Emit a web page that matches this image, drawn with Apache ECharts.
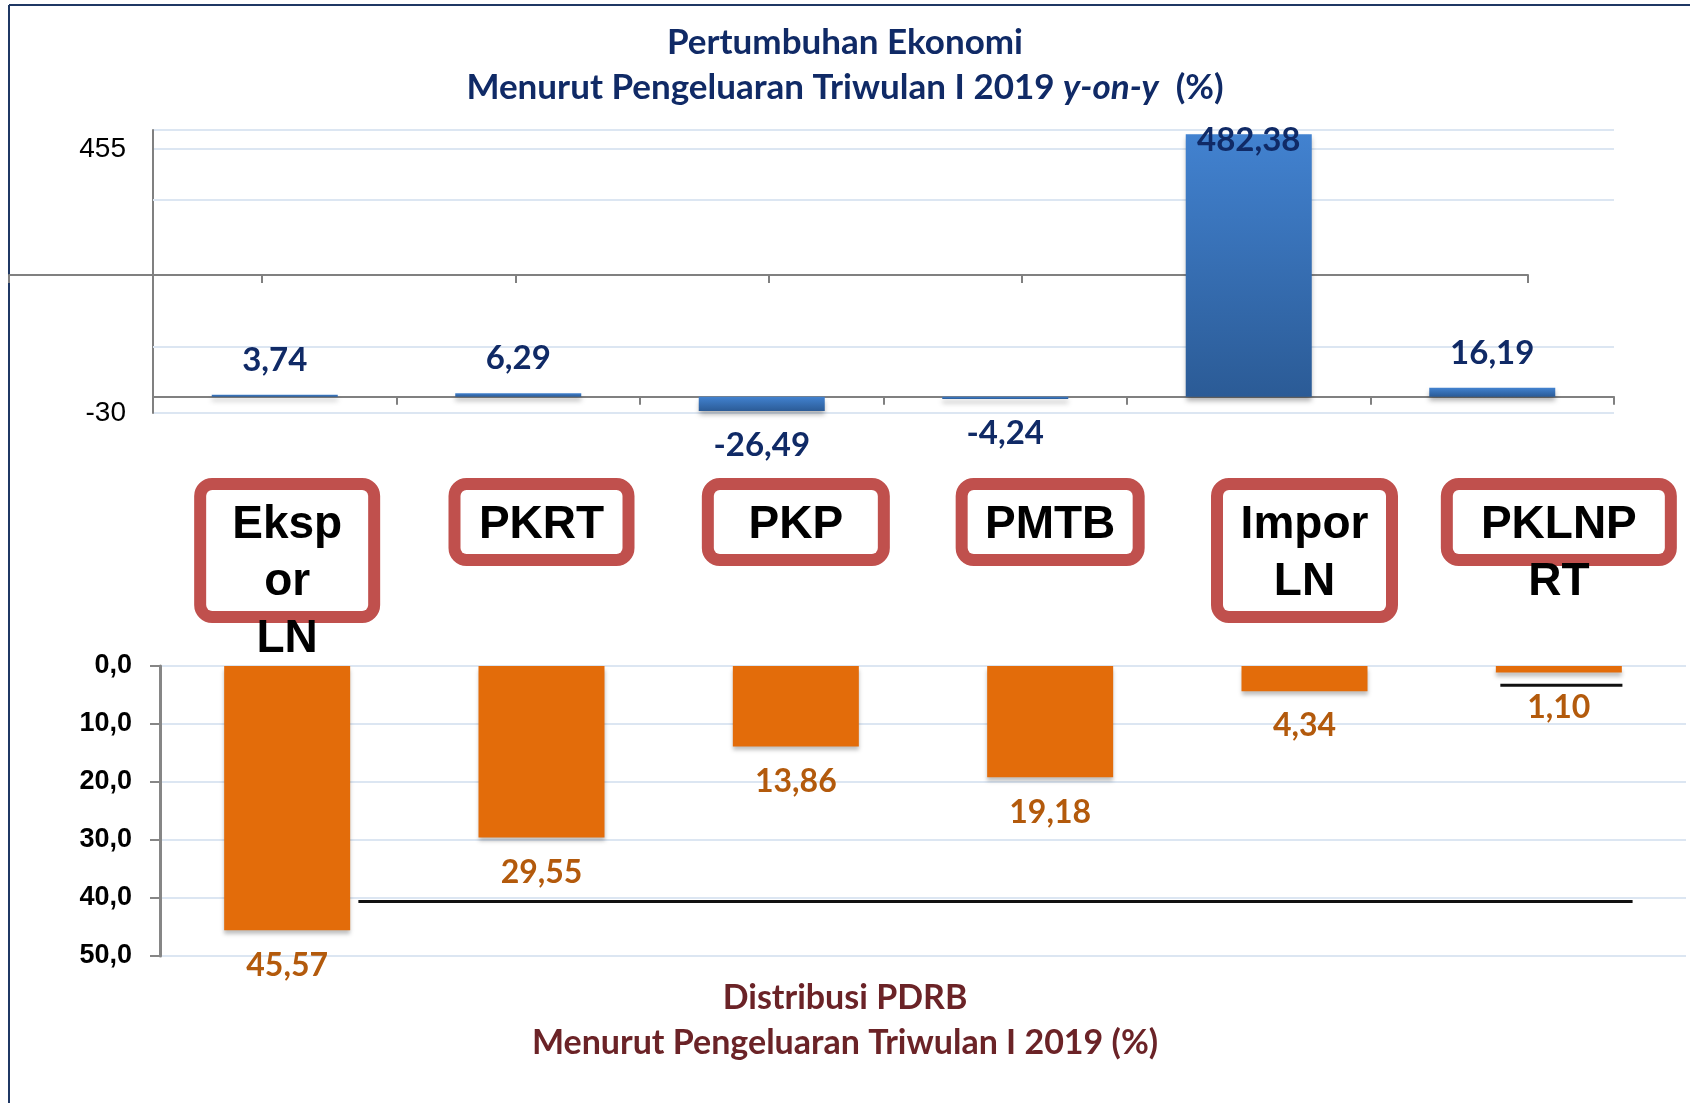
<!DOCTYPE html>
<html>
<head>
<meta charset="utf-8">
<script src="https://cdn.jsdelivr.net/npm/echarts@6/dist/echarts.min.js"></script>
<style>
  html, body { margin: 0; padding: 0; background: #fff; }
  #main { width: 1690px; height: 1103px; }
</style>
</head>
<body>
<div id="main"></div>
<script>
// kategori pengeluaran (teks seperti di kotak merah)
var categories = ["Eksp\nor\nLN", "PKRT", "PKP", "PMTB", "Impor\nLN", "PKLNP\nRT"];
// pertumbuhan ekonomi y-on-y (%)
var growth = [3.74, 6.29, -26.49, -4.24, 482.38, 16.19];
// distribusi PDRB (%)
var distribution = [45.57, 29.55, 13.86, 19.18, 4.34, 1.10];
// label sumbu atas yang terlihat
var growthTicks = [-30, 455];
// garis-garis lepas pada gambar
var paleLines = [91, 361];
var blackLine = [[0.78, 40.6], [5.79, 40.6]];
var shortLine = [[5.27, 3.3], [5.75, 3.3]];

var navy = "#102a66";
var boxW = [142, 142, 144, 145, 143, 192];
var boxH = [114, null, null, null, null, 57];

function comma(v, d) {
  return Number(v).toFixed(d).replace(".", ",");
}

var myChart = echarts.init(document.getElementById("main"));

myChart.setOption({
  animation: false,
  title: [
    {
      text: "Pertumbuhan Ekonomi\nMenurut Pengeluaran Triwulan I 2019 {i|y-on-y}  (%)",
      left: "center",
      top: 15,
      textStyle: {
        fontFamily: "Lato", fontWeight: "bold", fontSize: 35, color: navy, lineHeight: 45,
        rich: { i: { fontFamily: "Lato", fontWeight: "bold", fontStyle: "italic", fontSize: 35, color: navy, lineHeight: 45 } }
      }
    },
    {
      text: "Distribusi PDRB\nMenurut Pengeluaran Triwulan I 2019 (%)",
      left: "center",
      top: 971,
      textStyle: { fontFamily: "Lato", fontWeight: "bold", fontSize: 34, color: "#6b2327", lineHeight: 45 }
    }
  ],
  graphic: [
    { type: "line", shape: { x1: 9, y1: 5, x2: 9, y2: 1103 }, style: { stroke: "#1f3864", lineWidth: 2 } },
    { type: "line", shape: { x1: 9, y1: 5, x2: 1690, y2: 5 }, style: { stroke: "#1f3864", lineWidth: 2 } }
  ],
  grid: [
    { left: 153, top: 130, width: 1461, height: 283 },
    { left: 9, top: 274, width: 1519, height: 1 },
    { left: 160, top: 666, width: 1526, height: 290 }
  ],
  xAxis: [
    {
      gridIndex: 0, type: "category", data: categories,
      axisLine: { onZero: true, lineStyle: { color: "#808080", width: 2 } },
      axisTick: { show: true, length: 8, lineStyle: { color: "#808080", width: 2 } },
      axisLabel: { show: false }
    },
    {
      gridIndex: 1, type: "category", data: categories,
      axisLine: { lineStyle: { color: "#808080", width: 2 } },
      axisTick: { show: true, length: 8, lineStyle: { color: "#808080", width: 2 } },
      axisLabel: { show: false }
    },
    {
      gridIndex: 2, type: "category", position: "top",
      data: categories.map(function (c, i) {
        var ts = { width: boxW[i], verticalAlign: "top", align: "center" };
        if (boxH[i]) ts.height = boxH[i];
        return { value: c, textStyle: ts };
      }),
      axisLine: { show: false },
      axisTick: { show: false },
      axisLabel: {
        interval: 0, margin: 176, verticalAlign: "top", align: "center",
        fontFamily: "Liberation Sans", fontWeight: "bold", fontSize: 46, color: "#000",
        lineHeight: 57, overflow: "none",
        borderColor: "#c0504d", borderWidth: 12, borderRadius: 6,
        padding: [7, 10, 0, 10], backgroundColor: "#fff"
      }
    },
    { gridIndex: 2, type: "value", min: 0, max: 6, show: false }
  ],
  yAxis: [
    {
      gridIndex: 0, type: "value", min: -30, max: 490, interval: 485,
      axisLine: { show: true, lineStyle: { color: "#808080", width: 2 } },
      axisTick: { show: false },
      axisLabel: {
        showMaxLabel: false, margin: 27,
        fontFamily: "Liberation Sans", fontSize: 28, color: "#000",
        formatter: function (v) { return growthTicks.indexOf(v) >= 0 ? String(v) : ""; }
      },
      splitLine: { lineStyle: { color: "#dce6f2", width: 2 } }
    },
    { gridIndex: 1, type: "value", show: false },
    {
      gridIndex: 2, type: "value", inverse: true, min: 0, max: 50, interval: 10,
      axisLine: { show: true, lineStyle: { color: "#868686", width: 3 } },
      axisTick: { show: true, length: 10, lineStyle: { color: "#868686", width: 2 } },
      axisLabel: {
        margin: 28, fontFamily: "Liberation Sans", fontWeight: "bold", fontSize: 27, color: "#000",
        formatter: function (v) { return comma(v, 1); }
      },
      splitLine: { lineStyle: { color: "#dce6f2", width: 2 } }
    }
  ],
  series: [
    {
      name: "Pertumbuhan", type: "bar", xAxisIndex: 0, yAxisIndex: 0, barWidth: 126, z: 3,
      itemStyle: {
        color: new echarts.graphic.LinearGradient(0, 0, 0, 1, [
          { offset: 0, color: "#4282d0" },
          { offset: 1, color: "#2b5b96" }
        ]),
        shadowColor: "rgba(0,0,0,0.3)", shadowBlur: 5, shadowOffsetY: 4
      },
      data: growth.map(function (v) {
        var lb = { position: v < 0 ? "bottom" : "top", distance: 18 };
        if (v > 400) lb = { position: "insideTop", distance: 0, offset: [0, -10] };
        return { value: v, label: lb };
      }),
      label: {
        show: true, fontFamily: "Lato", fontWeight: "bold", fontSize: 33, color: navy,
        formatter: function (p) { return comma(p.value, 2); }
      },
      markLine: {
        silent: true, symbol: "none", z: 1, label: { show: false },
        lineStyle: { color: "#dce6f2", width: 2, type: "solid" },
        data: paleLines.map(function (v) { return { yAxis: v }; })
      }
    },
    {
      name: "Distribusi", type: "bar", xAxisIndex: 2, yAxisIndex: 2, barWidth: 126,
      itemStyle: { color: "#e36c0a", shadowColor: "rgba(0,0,0,0.25)", shadowBlur: 4, shadowOffsetY: 4 },
      data: distribution,
      label: {
        show: true, position: "bottom", distance: 19,
        fontFamily: "Lato", fontWeight: "bold", fontSize: 32, color: "#b35a0c",
        formatter: function (p) { return comma(p.value, 2); }
      }
    },
    {
      type: "line", xAxisIndex: 3, yAxisIndex: 2, data: blackLine, symbol: "none", silent: true,
      lineStyle: { color: "#111", width: 3 }
    },
    {
      type: "line", xAxisIndex: 3, yAxisIndex: 2, data: shortLine, symbol: "none", silent: true,
      lineStyle: { color: "#111", width: 3 }
    }
  ]
});
</script>
</body>
</html>
